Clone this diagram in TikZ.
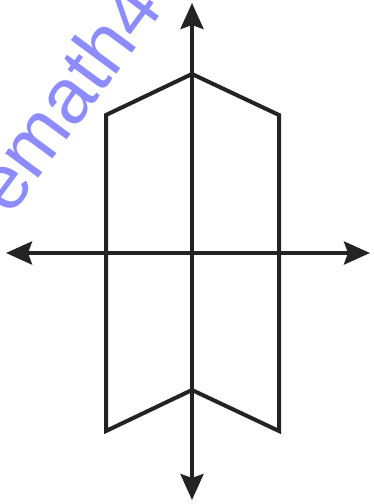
\documentclass[tikz,border=0pt]{standalone}
\usepackage{fontspec}
\newfontfamily\wmfont{Liberation Sans}
\usetikzlibrary{arrows.meta}
\definecolor{wmblue}{RGB}{140,140,255}
\definecolor{ink}{RGB}{35,35,35}
\tikzset{
  axisline/.style={line width=4pt, draw=ink, {Stealth[length=26pt,width=23pt,inset=4pt]}-{Stealth[length=26pt,width=23pt,inset=4pt]}},
  shapeline/.style={line width=4pt, draw=ink, line join=miter},
  watermark/.style={text=wmblue, font=\wmfont\fontsize{78}{78}\selectfont, rotate=53.5, anchor=base west, inner sep=0pt}
}
\begin{document}
\begin{tikzpicture}[x=1pt,y=-1pt]
\useasboundingbox (0,0) rectangle (373,504);
\begin{scope}
\clip (0,0) rectangle (373,504);
\node[watermark] (wm) at (10,218) {emath4};
\end{scope}
% shape vertices
\coordinate (apex) at (192,74);
\coordinate (tl) at (106,115);
\coordinate (tr) at (279,115);
\coordinate (bl) at (106,431);
\coordinate (br) at (279,431);
\coordinate (notch) at (192,390);
\draw[shapeline] (apex) -- (tl) -- (bl) -- (notch) -- (br) -- (tr) -- cycle;
% axes
\coordinate (ytop) at (192,3);
\coordinate (ybot) at (192,500);
\coordinate (xl) at (6,253);
\coordinate (xr) at (370,253);
\draw[axisline] (ybot) -- (ytop);
\draw[axisline] (xl) -- (xr);
\end{tikzpicture}
\end{document}
